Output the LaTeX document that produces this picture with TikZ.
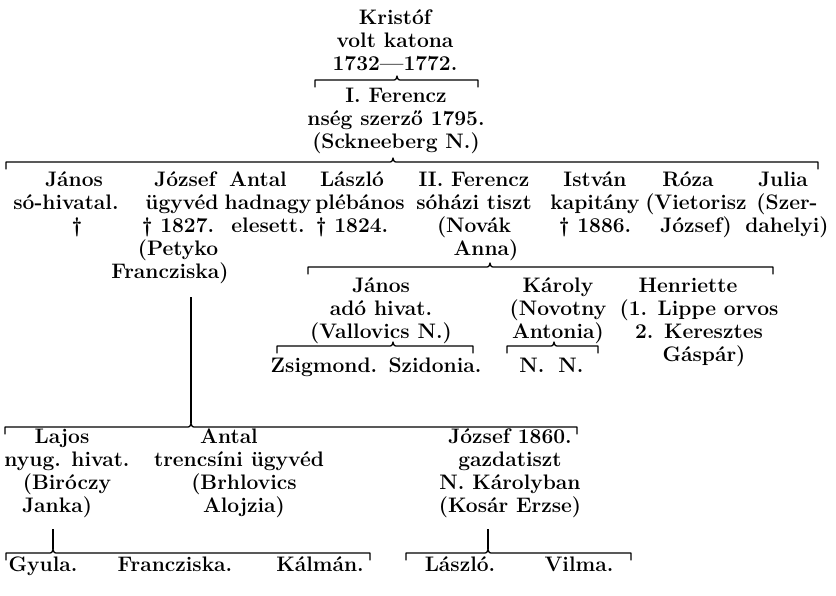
\documentclass[tikz,border=0pt]{standalone}
\begin{document}
\newcommand\Bkt[5]{% name, left x, right x, caret x, y
  \coordinate (#1-l) at (#2,#5);
  \coordinate (#1-r) at (#3,#5);
  \coordinate (#1-c) at (#4,#5-4);
  \draw[brk] ([yshift=-7pt]#1-l) -- (#1-l) -- (#4-5,#5) .. controls (#4-1,#5) .. (#1-c)
    .. controls (#4+1,#5) .. (#4+5,#5) -- (#1-r) -- ([yshift=-7pt]#1-r);
}
\newcommand\Rsh[1]{\hspace*{#1pt}}% shift a centred line by half the amount
\begin{tikzpicture}[x=1pt,y=-1pt,
  txt/.style={font=\bfseries\fontsize{21}{23}\selectfont, align=center, inner sep=0pt, anchor=base},
  brk/.style={line width=1.3pt, line cap=round, line join=round},
  conn/.style={line width=1.3pt}]
\useasboundingbox (0,0) rectangle (836,595);
% (node positions give the baseline of the LAST line of each text)

% generation 0 and 1
\node[txt] (kristof) at (395,70) {Kristóf\\volt katona\\1732—1772.};
\Bkt{b0}{315}{478}{397}{80}
\node[txt] (ferencz1) at (396,148) {I. Ferencz\\nség szerző 1795.\\(Sckneeberg N.)};
\Bkt{b1}{6}{818}{393}{162}

% generation 2
\node[txt] (janos1)   at (66,232)  {\Rsh{16}János\\só-hivatal.\\\Rsh{22}†};
\node[txt] (jozsef1)  at (178,278) {\Rsh{14}József\\\Rsh{8}ügyvéd\\† 1827.\Rsh{8}\\(Petyko\Rsh{20}\\Francziska)\Rsh{16}};
\node[txt] (antal1)   at (268,232) {Antal\Rsh{20}\\hadnagy\\elesett.};
\node[txt] (laszlo1)  at (360,232) {László\Rsh{16}\\plébános\\† 1824.\Rsh{16}};
\node[txt] (ferencz2) at (474,255) {II. Ferencz\\sóházi tiszt\\(Novák\Rsh{10}\\\Rsh{24}Anna)};
\node[txt] (istvan)   at (595,232) {István\\kapitány\\† 1886.};
\node[txt] (roza)     at (696,232) {Róza\Rsh{16}\\(Vietorisz\\József)};
\node[txt] (julia)    at (787,232) {Julia\Rsh{8}\\(Szer-\\dahelyi)};

% children of II. Ferencz
\Bkt{b2}{308}{773}{490}{267}
\node[txt] (janos2)    at (381,338) {János\\adó hivat.\\(Vallovics N.)};
\node[txt] (karoly)    at (558,338) {Károly\\(Novotny\\Antonia)};
\node[txt] (henriette) at (699,361) {Henriette\Rsh{22}\\(1. Lippe orvos\\2. Keresztes\\\Rsh{10}Gáspár)};
\Bkt{b3}{277}{473}{393}{346}
\node[txt] (zsigmond) at (324,372) {Zsigmond.};
\node[txt] (szidonia) at (435,372) {Szidonia.};
\Bkt{b4}{507}{598}{554}{346}
\node[txt] (nn1) at (532,372) {N.};
\node[txt] (nn2) at (571,372) {N.};

% children of József
\Bkt{b5}{5}{577}{191}{427}
\draw[conn] (jozsef1.south -| b5-c) ++(0,14) -- (b5-c);
\node[txt] (lajos)   at (67,512)  {Lajos\Rsh{10}\\nyug. hivat.\\(Biróczy\Rsh{20}\\Janka)\Rsh{20}};
\node[txt] (antal2)  at (239,512) {Antal\Rsh{20}\\trencsíni ügyvéd\\\Rsh{10}(Brhlovics\\\Rsh{10}Alojzia)};
\node[txt] (jozsef2) at (510,512) {József 1860.\\gazdatiszt\Rsh{8}\\N. Károlyban\\(Kosár Erzse)};

% children of Lajos
\Bkt{b6}{6}{370}{53}{553}
\draw[conn] (lajos.south -| b6-c) ++(0,12) -- (b6-c);
\node[txt] (gyula)       at (43,571)  {Gyula.};
\node[txt] (francziska2) at (175,571) {Francziska.};
\node[txt] (kalman)      at (320,571) {Kálmán.};

% children of József 1860
\Bkt{b7}{406}{631}{488}{553}
\draw[conn] (jozsef2.south -| b7-c) ++(0,12) -- (b7-c);
\node[txt] (laszlo2) at (460,571) {László.};
\node[txt] (vilma)   at (579,571) {Vilma.};
\end{tikzpicture}
\end{document}
